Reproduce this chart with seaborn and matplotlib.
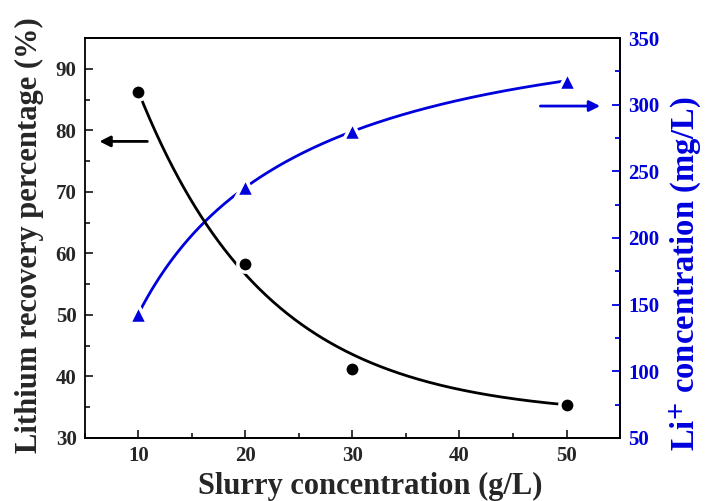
import numpy as np
import pandas as pd
import seaborn as sns
import matplotlib.pyplot as plt
from matplotlib.ticker import MultipleLocator

# data
slurry = [10, 20, 30, 50]
recovery = [86.3, 58.3, 41.2, 35.4]        # %
li_conc = [143, 238, 280, 318]             # mg/L

sns.set_theme(style="ticks")
plt.rcParams["font.family"] = ["Liberation Serif", "DejaVu Serif"]
plt.rcParams["font.weight"] = "bold"
plt.rcParams["mathtext.fontset"] = "stix"

df = pd.DataFrame({"slurry": slurry, "recovery": recovery, "li": li_conc})
x = np.array(slurry, float)
xs = np.linspace(10, 50, 300)

# exponential decay fit for recovery (y = y0 + A*exp(-x/t)), end points weighted
w = np.array([6.0, 1.0, 1.0, 6.0])
best = None
for t in np.linspace(2, 60, 1200):
    M = np.column_stack([np.ones_like(x), np.exp(-x / t)])
    coef, *_ = np.linalg.lstsq(M * w[:, None], np.array(recovery) * w, rcond=None)
    err = np.sum(((M @ coef - recovery) * w) ** 2)
    if best is None or err < best[0]:
        best = (err, t, coef)
_, t_fit, c_fit = best
rec_fit = pd.DataFrame({"x": xs, "y": c_fit[0] + c_fit[1] * np.exp(-xs / t_fit)})

# smooth line through the Li+ points (cubic in log x)
p = np.polyfit(np.log(x), li_conc, 3)
li_fit = pd.DataFrame({"x": xs, "y": np.polyval(p, np.log(xs))})

blue = "#0000dd"
fig, ax = plt.subplots(figsize=(7.07, 5.01), dpi=100)
fig.subplots_adjust(left=0.120, right=0.877, top=0.924, bottom=0.126)

sns.lineplot(data=rec_fit, x="x", y="y", ax=ax, color="black", lw=2, zorder=2)
ax.plot(df["slurry"], df["recovery"], "o", ms=11, color="black",
        mec="white", mew=2.5, zorder=4)

ax2 = ax.twinx()
sns.lineplot(data=li_fit, x="x", y="y", ax=ax2, color=blue, lw=2, zorder=2)
ax2.plot(df["slurry"], df["li"], "^", ms=13, color=blue, mec="white",
         mew=2.5, zorder=4)

ax.set_xlim(5, 55)
ax.set_ylim(30, 95)
ax2.set_ylim(50, 350)
ax.xaxis.set_major_locator(MultipleLocator(10))
ax.xaxis.set_minor_locator(MultipleLocator(5))
ax.yaxis.set_major_locator(MultipleLocator(10))
ax.yaxis.set_minor_locator(MultipleLocator(5))
ax2.yaxis.set_major_locator(MultipleLocator(50))
ax2.yaxis.set_minor_locator(MultipleLocator(25))

ax.tick_params(axis="both", which="major", direction="in", length=6, width=1.3,
               labelsize=15, pad=6)
ax.tick_params(axis="both", which="minor", direction="in", length=3.5, width=1.3)
ax.tick_params(axis="y", right=False)
ax2.tick_params(axis="y", which="major", direction="in", length=6, width=1.3,
                labelsize=15, colors=blue, pad=6)
ax2.tick_params(axis="y", which="minor", direction="in", length=3.5, width=1.3,
                colors=blue)
for lab in ax.get_xticklabels() + ax.get_yticklabels() + ax2.get_yticklabels():
    lab.set_fontweight("bold")

for s in ax.spines.values():
    s.set_linewidth(1.3)
    s.set_color("black")
for s in ax2.spines.values():
    s.set_linewidth(1.3)
ax2.spines["right"].set_color(blue)
ax2.spines["left"].set_visible(False)
ax2.spines["top"].set_color("black")
ax2.spines["bottom"].set_color("black")

ax.set_xlabel("Slurry concentration (g/L)", fontsize=22, fontweight="bold")
ax.set_ylabel("Lithium recovery percentage (%)", fontsize=22, fontweight="bold")
ax2.set_ylabel(r"Li$^{\mathbf{+}}$ concentration (mg/L)", fontsize=23.5,
               fontweight="bold", color=blue)
ax.xaxis.set_label_coords(0.533, -0.085)
ax.yaxis.set_label_coords(-0.077, 0.506)
ax2.yaxis.set_label_coords(1.088, 0.41)

ax.annotate("", xy=(6.1, 78.2), xytext=(11.1, 78.2),
            arrowprops=dict(arrowstyle="-|>", color="black", lw=2, mutation_scale=16))
ax2.annotate("", xy=(53.4, 299), xytext=(47.3, 299),
             arrowprops=dict(arrowstyle="-|>", color=blue, lw=2, mutation_scale=16))

ax.set_zorder(ax2.get_zorder() + 1)
ax.patch.set_visible(False)

fig.savefig("out.png", dpi=100)
